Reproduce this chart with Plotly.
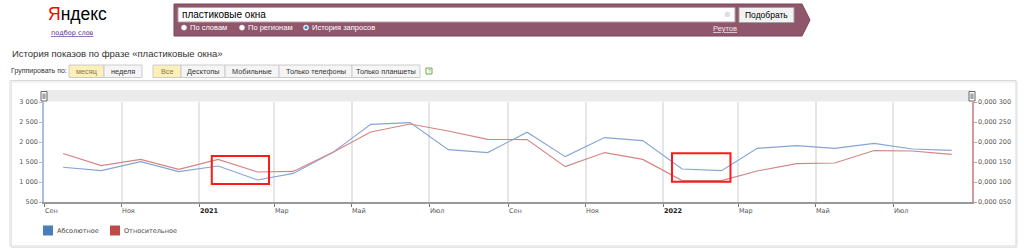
import plotly.graph_objects as go

# ---------------- data ----------------
dates = ["2020-09-16", "2020-10-16", "2020-11-16", "2020-12-16", "2021-01-16", "2021-02-16",
         "2021-03-16", "2021-04-16", "2021-05-16", "2021-06-16", "2021-07-16", "2021-08-16",
         "2021-09-16", "2021-10-16", "2021-11-16", "2021-12-16", "2022-01-16", "2022-02-16",
         "2022-03-16", "2022-04-16", "2022-05-16", "2022-06-16", "2022-07-16", "2022-08-16"]
absolute = [1370, 1285, 1510, 1260, 1400, 1050, 1215, 1735, 2440, 2485, 1810, 1735,
            2245, 1635, 2110, 2035, 1325, 1285, 1840, 1910, 1840, 1965, 1825, 1790]
relative = [0.0001715, 0.0001410, 0.0001565, 0.0001315, 0.0001565, 0.0001250,
            0.0001265, 0.0001735, 0.0002250, 0.0002450, 0.0002275, 0.0002065,
            0.0002060, 0.0001385, 0.0001735, 0.0001565, 0.0001035, 0.0001035,
            0.0001275, 0.0001460, 0.0001475, 0.0001785, 0.0001775, 0.0001690]

x_tick_vals = ["2020-09-01", "2020-11-01", "2021-01-01", "2021-03-01", "2021-05-01", "2021-07-01",
               "2021-09-01", "2021-11-01", "2022-01-01", "2022-03-01", "2022-05-01", "2022-07-01"]
x_tick_text = ["Сен", "Ноя", "<b>2021</b>", "Мар", "Май", "Июл",
               "Сен", "Ноя", "<b>2022</b>", "Мар", "Май", "Июл"]
y_left_vals = [500, 1000, 1500, 2000, 2500, 3000]
y_left_text = ["500", "1 000", "1 500", "2 000", "2 500", "3 000"]
y_right_vals = [0.00005, 0.0001, 0.00015, 0.0002, 0.00025, 0.0003]
y_right_text = ["0,000 050", "0,000 100", "0,000 150", "0,000 200", "0,000 250", "0,000 300"]

# highlighted regions (date range, value range)
highlights = [("2021-01-11", "2021-02-25", 950, 1650),
              ("2022-01-08", "2022-02-23", 1008, 1717)]

# ---------------- layout helpers ----------------
W, H = 1024, 251
L, R, T, B = 44, 972, 102, 202


def px(x):
    return (x - L) / (R - L)


def py(y):
    return (B - y) / (B - T)


ARIAL = "Liberation Sans"
VERD = "DejaVu Sans"
shapes = []
annots = []


def rect(x0, y0, x1, y1, fill=None, line=None, lw=1, layer="above"):
    shapes.append(dict(type="rect", xref="paper", yref="paper", x0=px(x0), x1=px(x1),
                       y0=py(y0), y1=py(y1), fillcolor=fill or "rgba(0,0,0,0)",
                       line=dict(color=line or "rgba(0,0,0,0)", width=lw if line else 0),
                       layer=layer))


def text(x, y, s, size=8, color="#333", family=ARIAL, anchor="left"):
    annots.append(dict(xref="paper", yref="paper", x=px(x), y=py(y), text=s, showarrow=False,
                       xanchor=anchor, yanchor="middle", font=dict(size=size, color=color, family=family)))


# ---------------- header ----------------
text(46, 14, '<span style="color:#f00">Я</span>ндекс', size=17.5, color="#000",
     family="Liberation Sans Narrow, Liberation Sans")
text(72.5, 32.5, "<u>подбор слов</u>", size=6.5, color="#5b2b91", family=VERD, anchor="center")

# banner with arrow
bx0, bx1, by0, by1 = 174, 802, 4, 36
path = "M {} {} L {} {} L {} {} L {} {} L {} {} Z".format(
    px(bx0), py(by0), px(bx1), py(by0), px(bx1 + 8), py((by0 + by1) / 2), px(bx1), py(by1), px(bx0), py(by1))
shapes.append(dict(type="path", xref="paper", yref="paper", path=path, fillcolor="#8f566c",
                   line=dict(color="#7a4459", width=1), layer="above"))
rect(178, 7.5, 735, 22, fill="#ffffff", line="#b8a0aa")
text(180, 15, "пластиковые окна", size=10, color="#000")
text(727, 15, "⊗", size=8, color="#c8c8c8", anchor="center")
rect(739, 7.5, 794, 22.5, fill="#f2f2f2", line="#a0a0a0")
text(766.5, 15.2, "Подобрать", size=8.5, color="#000", anchor="center")

for cx, label, sel in [(184, "По словам", False), (242, "По регионам", False), (306, "История запросов", True)]:
    shapes.append(dict(type="circle", xref="paper", yref="paper", x0=px(cx - 2.6), x1=px(cx + 2.6),
                       y0=py(27.6 + 2.6), y1=py(27.6 - 2.6), fillcolor="#ffffff",
                       line=dict(color="#dddddd", width=0.5), layer="above"))
    if sel:
        shapes.append(dict(type="circle", xref="paper", yref="paper", x0=px(cx - 1.5), x1=px(cx + 1.5),
                           y0=py(27.6 + 1.5), y1=py(27.6 - 1.5), fillcolor="#2a7fe0",
                           line=dict(width=0), layer="above"))
    text(cx + 4, 27.8, label, size=7.5, color="#ffffff")
text(711, 28, "<u>Реутов</u>", size=7.5, color="#f4e6ec")

# title and buttons
text(10, 53, "История показов по фразе «пластиковые окна»", size=9.5, color="#333")
text(9, 71, "Группировать по:", size=7, color="#333")
buttons1 = [(69, 104, "месяц", True), (104, 142, "неделя", False)]
buttons2 = [(153, 181, "Все", True), (181, 225, "Десктопы", False), (225, 279, "Мобильные", False),
            (279, 352, "Только телефоны", False), (352, 420, "Только планшеты", False)]
for x0, x1, lab, sel in buttons1 + buttons2:
    rect(x0, 65, x1, 77.5, fill="#fcefb8" if sel else "#f5f5f5", line="#cccccc")
    text((x0 + x1) / 2, 71.3, lab, size=7.3, color="#8a7a55" if sel else "#333", anchor="center")
rect(426, 68, 432, 74, fill="#ffffff", line="#6aaa4a")
text(429, 71, "?", size=5, color="#6aaa4a", anchor="center")

# chart box
rect(11.5, 82, 1017, 247.5, fill=None, line="#e6e6e6", lw=1, layer="below")
rect(10, 80.5, 1016, 246, fill=None, line="#d8d8d8", lw=1, layer="below")

# scroller band
rect(L, 90, R, 101.5, fill="#ebebeb", line=None, layer="below")
for hx in (L, R):
    rect(hx - 3, 91.5, hx + 3, 101, fill="#ffffff", line="#666666", lw=1)
    for dx in (-0.9, 0.9):
        shapes.append(dict(type="line", xref="paper", yref="paper", x0=px(hx + dx), x1=px(hx + dx),
                           y0=py(93.5), y1=py(99), line=dict(color="#444", width=0.8)))

# x tick labels
for v, t in zip(x_tick_vals, x_tick_text):
    annots.append(dict(xref="x", yref="paper", x=v, y=py(210.5), text=t, showarrow=False,
                       xanchor="left", yanchor="middle", xshift=-1.5,
                       font=dict(size=6.5, color="#222" if "<b>" in t else "#555", family=VERD)))

# legend
rect(43, 225.5, 53, 235.5, fill="#4a7ebb", line=None)
text(55, 230.5, "Абсолютное", size=6.5, color="#444", family=VERD)
rect(110, 225.5, 120, 235.5, fill="#be4b48", line=None)
text(122, 230.5, "Относительное", size=6.5, color="#444", family=VERD)

# highlight boxes (data coords)
for d0, d1, v0, v1 in highlights:
    shapes.append(dict(type="rect", xref="x", yref="y", x0=d0, x1=d1, y0=v0, y1=v1,
                       line=dict(color="#ff1a1a", width=2), fillcolor="rgba(0,0,0,0)", layer="above"))

# ---------------- figure ----------------
fig = go.Figure()
fig.add_trace(go.Scatter(x=dates, y=absolute, mode="lines", name="Абсолютное",
                         line=dict(color="#86a4d4", width=1.1)))
fig.add_trace(go.Scatter(x=dates, y=relative, mode="lines", name="Относительное", yaxis="y2",
                         line=dict(color="#d48484", width=1.1)))

fig.update_layout(
    width=W, height=H,
    margin=dict(l=L, r=W - R, t=T, b=H - B, pad=0),
    paper_bgcolor="#ffffff", plot_bgcolor="#ffffff",
    showlegend=False,
    xaxis=dict(type="date", range=["2020-09-01", "2022-09-01"], tickvals=x_tick_vals,
               showticklabels=False, ticks="outside", ticklen=3, tickcolor="#777",
               showline=True, linecolor="#999999", linewidth=1.5,
               showgrid=True, gridcolor="#e6e6e6", gridwidth=1.5, zeroline=False, fixedrange=True),
    yaxis=dict(range=[500, 3000], tickvals=y_left_vals, ticktext=y_left_text,
               ticks="outside", ticklen=3, tickcolor="#a9bfdf", showline=True, linecolor="#a9bfdf",
               linewidth=1.5, showgrid=False, zeroline=False,
               tickfont=dict(size=6.5, color="#555", family=VERD)),
    yaxis2=dict(range=[0.00005, 0.0003], tickvals=y_right_vals, ticktext=y_right_text,
                overlaying="y", side="right", ticks="outside", ticklen=3, tickcolor="#d49a9a",
                showline=True, linecolor="#d49a9a", linewidth=1.5, showgrid=False, zeroline=False,
                tickfont=dict(size=6.5, color="#555", family=VERD)),
    shapes=shapes,
    annotations=annots,
)

fig.write_html("out.html", config={"displayModeBar": False})
